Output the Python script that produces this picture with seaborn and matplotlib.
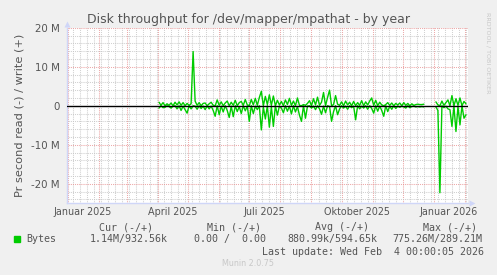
import numpy as np
import pandas as pd
import matplotlib
matplotlib.use("Agg")
import matplotlib.pyplot as plt
import matplotlib.dates as mdates
from matplotlib.ticker import FixedLocator, MultipleLocator, NullFormatter
import seaborn as sns

# ---------------- data (MB/s, one value every 2 days from 2025-04-02) ----------------
start_date = "2025-04-02"
write_m = [
    0.9, 0.1, 0.8, 0.0, 0.5, 0.1, 0.7, 0.0, 0.9, 0.2,
    1.0, 0.1, 0.8, 0.0, 0.6, 0.1, 0.5,
    13.9,
    1.2, 0.1, 0.8, 0.0, 0.6, 0.7, 0.0, 0.5, 0.9, 0.1, 0.0, 1.5,
    0.1, 1.0, 0.0, 0.7, 1.2, 0.0, 0.9, 0.1, 1.4, 0.0, 0.8, 1.1, 0.1, 1.6, 0.2,
    0.0, 1.6, 0.2, 1.9, 0.1, 2.1, 3.7, 0.0, 2.4, 0.3, 2.8, 0.1, 2.5, 0.0, 1.4,
    0.2, 1.1, 0.0, 1.5, 0.3, 1.9, 0.1, 1.2, 0.0, 2.0, 0.1, 0.0, 0.3, 0.1, 0.6,
    1.3, 0.0, 1.8, 0.2, 2.2, 0.1, 0.9, 3.4, 0.0, 2.1, 4.0, 0.0, 0.3, 2.6, 0.4,
    0.1, 1.0, 0.0, 1.2, 0.2, 0.9, 0.0, 1.1, 0.0, 0.8, 0.1, 1.3, 0.0, 1.0, 0.2,
    1.2, 2.0, 0.1, 1.4, 0.0, 0.9, 0.2, 0.0, 0.3, 0.8, 0.1, 0.7, 0.0, 0.6, 0.2,
    0.7, 0.0, 0.8, 0.1, 0.6, 0.0, 0.5, 0.1, 0.3, 0.4, 0.3, 0.3, 0.4,
    np.nan, np.nan, np.nan, np.nan, np.nan,
    1.0, 0.2, 0.0, 1.2, 0.1, 0.8, 1.5, 0.0, 2.6, 0.0, 1.8, 0.1, 2.0, 0.0, 1.1, 0.5,
]
read_m = [
    0.6, 0.0, 0.5, 0.4, 0.0, 0.2, 0.6, 0.1, 0.0, 0.8,
    0.0, 1.2, 0.1, 1.0, 1.9, 0.0, 0.8,
    0.0,
    0.1, 0.9, 0.0, 0.7, 0.1, 1.0, 0.0, 0.8, 0.1, 1.2, 2.7, 0.0,
    2.3, 0.1, 1.6, 0.0, 1.2, 3.0, 0.1, 2.8, 0.0, 1.5, 0.2, 2.0, 0.0, 1.3, 0.1,
    4.0, 0.0, 2.0, 0.1, 1.0, 0.0, 6.2, 0.3, 3.4, 0.0, 5.5, 0.2, 5.3, 0.0, 2.4,
    0.1, 0.6, 1.8, 0.0, 1.4, 0.1, 2.1, 0.0, 1.6, 0.2, 2.4, 4.0, 0.0, 3.2, 0.1,
    0.0, 0.6, 0.1, 1.0, 0.0, 0.8, 2.2, 0.1, 1.8, 0.0, 0.2, 4.0, 1.5, 0.0, 2.3,
    0.8, 0.0, 0.6, 0.1, 0.9, 0.0, 0.5, 0.1, 3.6, 0.0, 0.8, 0.1, 0.6, 0.0, 0.9,
    0.0, 0.7, 1.9, 0.0, 1.4, 0.1, 1.2, 2.7, 0.0, 1.5, 0.1, 0.9, 0.0, 0.7, 0.1,
    0.4, 0.1, 0.3, 0.6, 0.0, 0.5, 0.2, 0.1, 0.3, 0.2, 0.3, 0.2, 0.3,
    np.nan, np.nan, np.nan, np.nan, np.nan,
    0.3, 1.2, 22.3, 0.0, 0.5, 0.1, 0.8, 1.0, 5.3, 0.1, 6.6, 0.2, 4.9, 0.0, 3.2, 2.3,
]
ytick_values = [20e6, 10e6, 0, -10e6, -20e6]
ytick_labels = ["20 M", "10 M", "0", "-10 M", "-20 M"]
xlabel_months = ["2025-01-01", "2025-04-01", "2025-07-01", "2025-10-01", "2026-01-01"]
xlabel_texts = ["Januar 2025", "April 2025", "Juli 2025", "Oktober 2025", "Januar 2026"]
legend_headers = ["Cur (-/+)", "Min (-/+)", "Avg (-/+)", "Max (-/+)"]
legend_values = ["1.14M/932.56k", "0.00 /  0.00", "880.99k/594.65k", "775.26M/289.21M"]
title = "Disk throughput for /dev/mapper/mpathat - by year"
ylabel = "Pr second read (-) / write (+)"
last_update = "Last update: Wed Feb  4 00:00:05 2026"

# ---------------- frame ----------------
dates = pd.date_range(start_date, periods=len(write_m), freq="2D")
w = np.array(write_m) * 1e6
r = -np.array(read_m) * 1e6
seg = np.cumsum(np.isnan(w)).astype(int)
df = pd.DataFrame({"date": dates, "write": w, "read": r, "seg": seg}).dropna()

sns.set_theme(style="white")
plt.rcParams["font.family"] = ["DejaVu Sans"]

W_PX, H_PX = 497, 275
fig = plt.figure(figsize=(W_PX / 100, H_PX / 100), dpi=100, facecolor="#F0F0F0")
L, R, T, B = 66.7, 468.0, 27.7, 203.3
ax = fig.add_axes([L / W_PX, 1 - B / H_PX, (R - L) / W_PX, (B - T) / H_PX])
ax.set_facecolor("white")

TXT = "#555555"
GREEN = "#00CC00"

sns.lineplot(data=df, x="date", y="write", units="seg", estimator=None,
             color=GREEN, lw=1.0, ax=ax, zorder=3)
sns.lineplot(data=df, x="date", y="read", units="seg", estimator=None,
             color=GREEN, lw=1.0, ax=ax, zorder=3)
ax.axhline(0, color="black", lw=1.0, zorder=4)

ax.set_xlim(pd.Timestamp("2024-12-31"), pd.Timestamp("2026-02-04"))
ax.set_ylim(-25e6, 20e6)

ax.yaxis.set_major_locator(FixedLocator(ytick_values))
ax.set_yticklabels(ytick_labels)
ax.yaxis.set_minor_locator(MultipleLocator(2e6))
ax.xaxis.set_major_locator(mdates.MonthLocator())
ax.xaxis.set_minor_locator(mdates.WeekdayLocator(byweekday=mdates.MO))
ax.xaxis.set_major_formatter(NullFormatter())

dot = (0, (0.72, 1.1))
ax.grid(which="minor", color="#C4C4C4", lw=0.75, ls=dot, zorder=0)
ax.grid(which="major", color="#E89090", lw=0.75, ls=dot, zorder=1)
ax.set_axisbelow(True)

for s in ["top", "right"]:
    ax.spines[s].set_visible(False)
for s in ["left", "bottom"]:
    ax.spines[s].set_color("#CFD6F8")
    ax.spines[s].set_linewidth(1.0)

ax.tick_params(axis="both", which="both", length=0)
ax.tick_params(axis="y", labelsize=7.4, labelcolor=TXT, pad=5)
ax.set_xlabel("")
ax.set_ylabel(ylabel, fontsize=8.2, color=TXT, labelpad=5)

# x labels centred half a month after month start (rrdtool style)
for m, t in zip(xlabel_months, xlabel_texts):
    ax.text(pd.Timestamp(m) + pd.Timedelta(days=15), -0.05, t,
            transform=ax.get_xaxis_transform(), ha="center", va="center",
            fontsize=6.9, color=TXT)

# axis arrows
ax.plot([0], [1.0 + 4 / (B - T)], marker="^", ms=4.5, color="#CFD6F8",
        transform=ax.transAxes, clip_on=False, mec="none")
ax.plot([1.0 + 4 / (R - L)], [0], marker=">", ms=4.5, color="#CFD6F8",
        transform=ax.transAxes, clip_on=False, mec="none")

def fx(px):
    return px / W_PX

def fy(py):
    return 1 - py / H_PX

fig.text(fx(248.5), fy(19), title, ha="center", va="center", fontsize=9.0, color=TXT)
fig.text(fx(487.5), fy(53), "RRDTOOL / TOBI OETIKER", rotation=270, ha="center",
         va="center", fontsize=4.6, color="#C8C8C8")

MONO = {"family": ["DejaVu Sans Mono"], "fontsize": 7.2, "color": TXT}
for x0, t in zip([99.0, 206.7, 315.0, 422.7], legend_headers):
    fig.text(fx(x0), fy(227.3), t, ha="left", va="center", **MONO)
fig.patches.append(plt.Rectangle((fx(14), fy(242.3)), 6 / W_PX, 6 / H_PX,
                                 transform=fig.transFigure, color=GREEN))
fig.text(fx(26.7), fy(239.3), "Bytes", ha="left", va="center", **MONO)
for x0, t in zip([89.3, 194.3, 287.3, 392.7], legend_values):
    fig.text(fx(x0), fy(239.3), t, ha="left", va="center", **MONO)
fig.text(fx(483.5), fy(251.7), last_update, ha="right", va="center", **MONO)
fig.text(fx(248), fy(264), "Munin 2.0.75", ha="center", va="center",
         fontsize=5.8, color="#C8C8C8")

fig.savefig("out.png", dpi=100, facecolor=fig.get_facecolor())
